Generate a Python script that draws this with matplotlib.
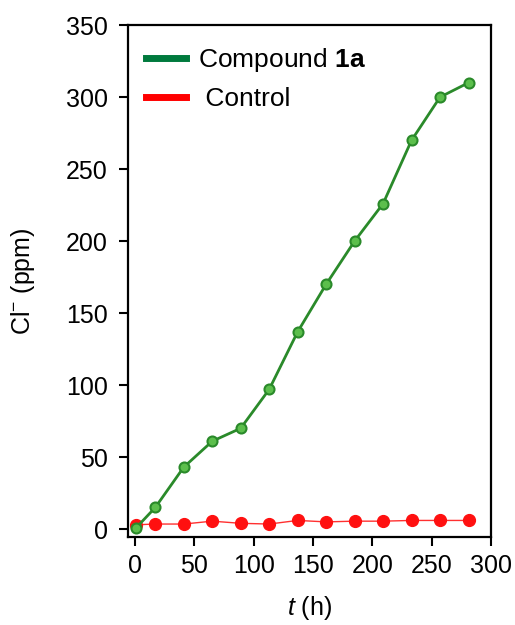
import matplotlib.pyplot as plt
from matplotlib.lines import Line2D

plt.rcParams['font.family'] = ['Liberation Sans', 'DejaVu Sans']
plt.rcParams['mathtext.fontset'] = 'custom'
plt.rcParams['mathtext.rm'] = 'Liberation Sans'
plt.rcParams['mathtext.it'] = 'Liberation Sans:italic'
plt.rcParams['mathtext.bf'] = 'Liberation Sans:bold'

# data
t_hours = [1, 17, 41, 65, 89, 113, 137, 161, 185, 209, 233, 257, 281]
compound_1a = [1, 15, 43, 61, 70, 97, 137, 170, 200, 226, 270, 300, 310]
control = [3, 3.5, 3.5, 5.5, 4, 3.5, 6, 5, 5.5, 5.5, 6, 6, 6]

fig = plt.figure(figsize=(5.15, 6.25), dpi=100)
ax = fig.add_axes([0.2485, 0.1408, 0.705, 0.819])

ax.plot(t_hours, control, color='#ff3030', lw=1.0, marker='o', ms=8.5,
        mfc='#ff1010', mec='#ff1010', zorder=2)
ax.plot(t_hours, compound_1a, color='#2a8a2a', lw=2, marker='o', ms=7.2,
        mfc='#5cbf4c', mec='#2a8a2a', mew=1.5, zorder=3)

ax.set_xlim(-6, 300)
ax.set_ylim(-5.5, 350)
ax.set_xticks([0, 50, 100, 150, 200, 250, 300])
ax.set_yticks([0, 50, 100, 150, 200, 250, 300, 350])
ax.tick_params(direction='out', length=6.5, width=1.5, labelsize=18)
ax.tick_params(axis='y', pad=8)
ax.tick_params(axis='x', pad=6)
for s in ax.spines.values():
    s.set_linewidth(1.6)

ax.set_xlabel(r'$\mathit{t}$ (h)', fontsize=18, labelpad=11)
ax.set_ylabel(r'Cl$^{-}$ (ppm)', fontsize=18, labelpad=21)

handles = [Line2D([], [], color='#007a3d', lw=5),
           Line2D([], [], color='#ff0000', lw=5)]
ax.legend(handles, [r'Compound $\mathbf{1a}$', ' Control'], loc='upper left',
          frameon=False, fontsize=19, handlelength=1.5, handletextpad=0.45,
          labelspacing=0.5, borderaxespad=0.4, borderpad=0.3,
          bbox_to_anchor=(0.0, 0.995))

fig.savefig('out.png', dpi=100)
